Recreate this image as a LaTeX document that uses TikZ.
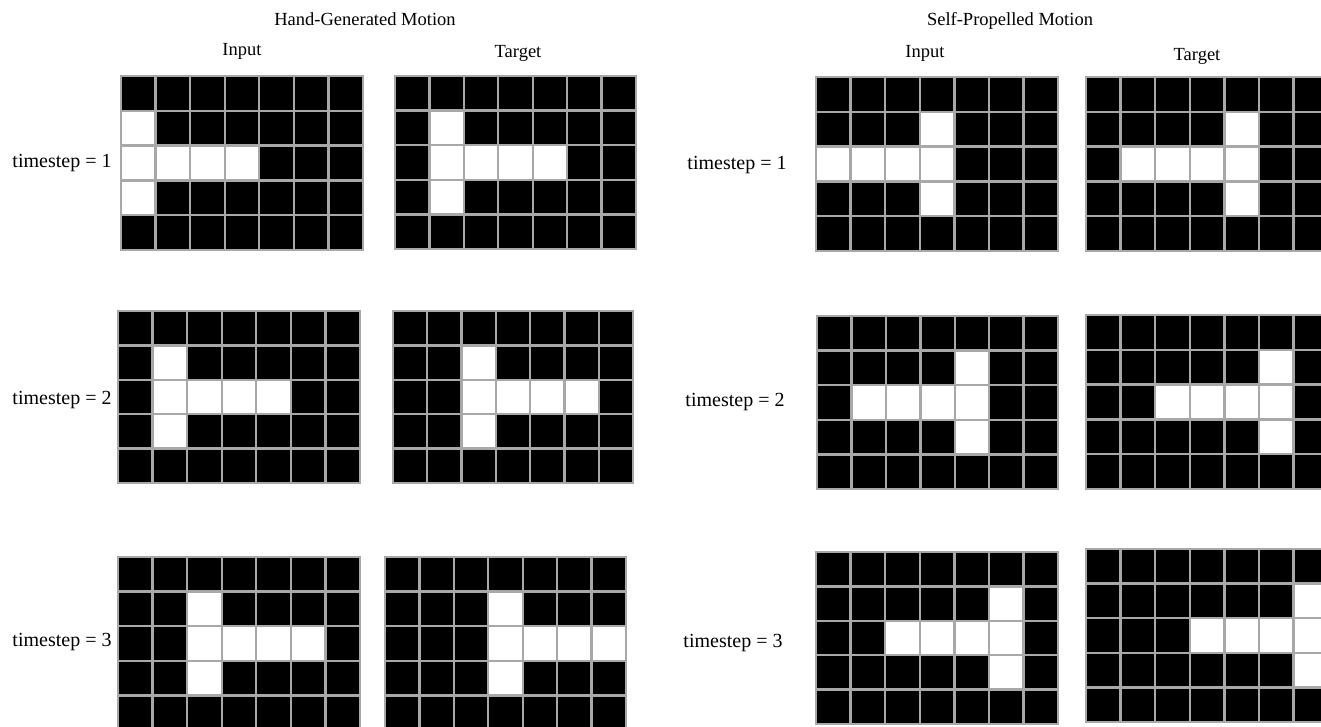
\documentclass[tikz,border=0pt]{standalone}
\usepackage{fontspec}
\setmainfont{Liberation Serif}
\definecolor{gridgray}{HTML}{A8A8A8}
\newcommand\cellgrid[5]{%
  \pgfmathsetmacro\cw{(#3-#1)/7}%
  \pgfmathsetmacro\ch{(#4-#2)/5}%
  \foreach \i in {0,...,6}{\foreach \j in {0,...,4}{%
    \path[cellblack] ({#1+\i*\cw},{#2+\j*\ch}) rectangle ++(\cw,\ch);}}%
  \foreach \i/\j in {#5}{%
    \path[cellwhite] ({#1+\i*\cw},{#2+\j*\ch}) rectangle ++(\cw,\ch);}%
}
\begin{document}
\begin{tikzpicture}[x=1pt,y=-1pt,
  cellblack/.style={fill=black,draw=gridgray,line width=2.4pt},
  cellwhite/.style={fill=white,draw=gridgray,line width=2.4pt},
  lbl/.style={font=\fontsize{18.5}{22}\selectfont,inner sep=0pt},
  tslbl/.style={font=\fontsize{20}{24}\selectfont,inner sep=0pt}]
\useasboundingbox (0,0) rectangle (1321,726);
\fill[white] (0,0) rectangle (1321,726);
\clip (0,0) rectangle (1321,726);
% titles
\node[lbl] (hgtitle) at (365,19) {Hand-Generated Motion};
\node[lbl] (hginput) at (242,51) {Input};
\node[lbl] (hgtarget) at (518,53) {Target};
\node[lbl] (sptitle) at (1010,21) {Self-Propelled Motion};
\node[lbl] (spinput) at (925,53) {Input};
\node[lbl] (sptarget) at (1197,56) {Target};
% timestep labels
\node[tslbl] (hgt1) at (62,163) {timestep = 1};
\node[tslbl] (hgt2) at (62,400) {timestep = 2};
\node[tslbl] (hgt3) at (62,642) {timestep = 3};
\node[tslbl] (spt1) at (737,165) {timestep = 1};
\node[tslbl] (spt2) at (735,402) {timestep = 2};
\node[tslbl] (spt3) at (733,643) {timestep = 3};
% hand-generated grids
\cellgrid{121}{76}{363}{250}{0/1,0/2,0/3,1/2,2/2,3/2}
\cellgrid{395}{76}{636}{249}{1/1,1/2,1/3,2/2,3/2,4/2}
\cellgrid{118}{311}{360}{483}{1/1,1/2,1/3,2/2,3/2,4/2}
\cellgrid{393}{311}{633}{483}{2/1,2/2,2/3,3/2,4/2,5/2}
\cellgrid{118}{557}{360}{730}{2/1,2/2,2/3,3/2,4/2,5/2}
\cellgrid{385}{557}{626}{730}{3/1,3/2,3/3,4/2,5/2,6/2}
% self-propelled grids
\cellgrid{816}{77}{1058}{251}{3/1,3/2,3/3,0/2,1/2,2/2}
\cellgrid{1086}{77}{1328}{251}{4/1,4/2,4/3,1/2,2/2,3/2}
\cellgrid{817}{316}{1058}{489}{4/1,4/2,4/3,1/2,2/2,3/2}
\cellgrid{1086}{315}{1328}{489}{5/1,5/2,5/3,2/2,3/2,4/2}
\cellgrid{816}{552}{1058}{724}{5/1,5/2,5/3,2/2,3/2,4/2}
\cellgrid{1086}{549}{1328}{722}{6/1,6/2,6/3,3/2,4/2,5/2}
\end{tikzpicture}
\end{document}
